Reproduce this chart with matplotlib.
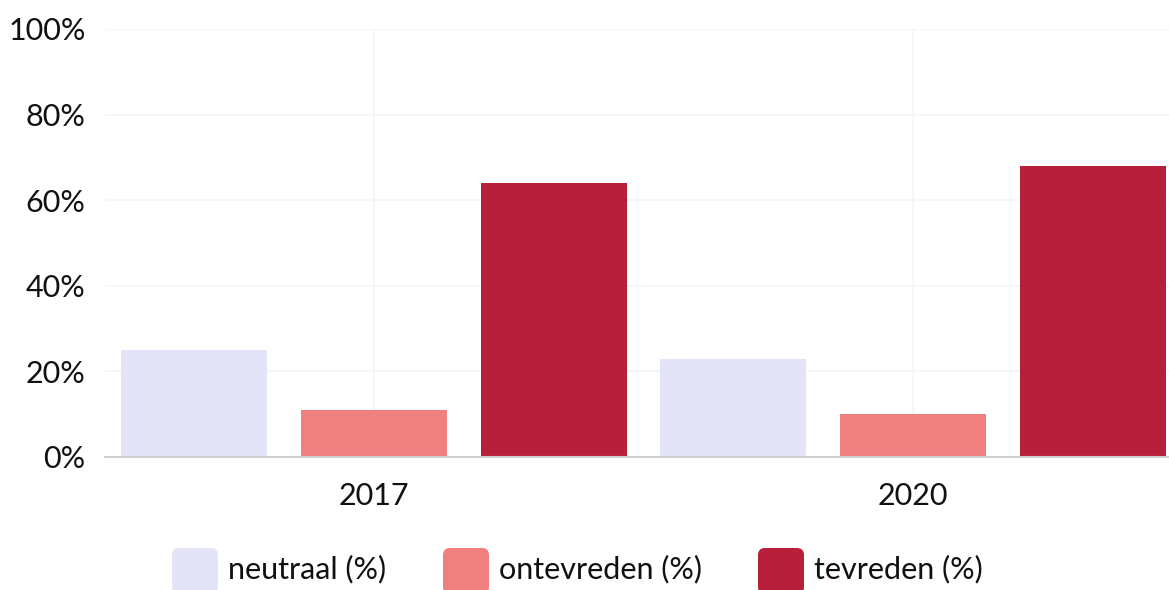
import matplotlib
matplotlib.use("Agg")
import matplotlib.pyplot as plt
import numpy as np
from matplotlib.patches import FancyBboxPatch
from matplotlib.ticker import FuncFormatter

plt.rcParams['font.family'] = ['Lato', 'DejaVu Sans']

years = ["2017", "2020"]
series = ["neutraal (%)", "ontevreden (%)", "tevreden (%)"]
neutraal = [25, 23]
ontevreden = [11, 10]
tevreden = [64, 68]
colors = ["#E4E4F8", "#F08080", "#B71F3A"]
y_ticks = [0, 20, 40, 60, 80, 100]

W, H = 1169, 590
fig = plt.figure(figsize=(W / 100, H / 100), dpi=100)
ax = fig.add_axes([105 / W, 133 / H, 1077 / W, 428 / H])

x = np.arange(len(years))
bw = 0.271
step = 0.334
for i, (vals, c) in enumerate(zip([neutraal, ontevreden, tevreden], colors)):
    ax.bar(x + (i - 1) * step, vals, width=bw, color=c, zorder=2, label=series[i])

ax.set_xlim(-0.5, 1.5)
ax.set_ylim(0, 100)
ax.set_yticks(y_ticks)
ax.yaxis.set_major_formatter(FuncFormatter(lambda v, p: f"{v:.0f}%"))
ax.set_xticks(x)
ax.set_xticklabels(years)
ax.grid(True, color="#F5F5F7", linewidth=1.2, zorder=0)
for s in ["top", "right", "left"]:
    ax.spines[s].set_visible(False)
ax.spines["bottom"].set_color("#D0D0D4")
ax.spines["bottom"].set_linewidth(1.5)
ax.spines["bottom"].set_zorder(3)
ax.tick_params(axis="both", length=0, labelsize=22, colors="#111111")
ax.tick_params(axis="y", pad=14)
ax.tick_params(axis="x", pad=18)
for t in ax.get_yticklabels():
    t.set_y(t.get_position()[1])
    t.set_va("center_baseline")

# legend
leg_sq_x = [172, 443, 758]
for sx, c, lab in zip(leg_sq_x, colors, series):
    p = FancyBboxPatch((sx / W, (H - 594) / H), 46 / W, 46 / H,
                       boxstyle="round,pad=0,rounding_size=0.006",
                       transform=fig.transFigure, facecolor=c, edgecolor="none",
                       mutation_aspect=W / H)
    fig.add_artist(p)
    fig.text((sx + 56) / W, (H - 569) / H, lab, fontsize=22, va="center",
             ha="left", color="#111111")

fig.savefig("out.png", dpi=100)
